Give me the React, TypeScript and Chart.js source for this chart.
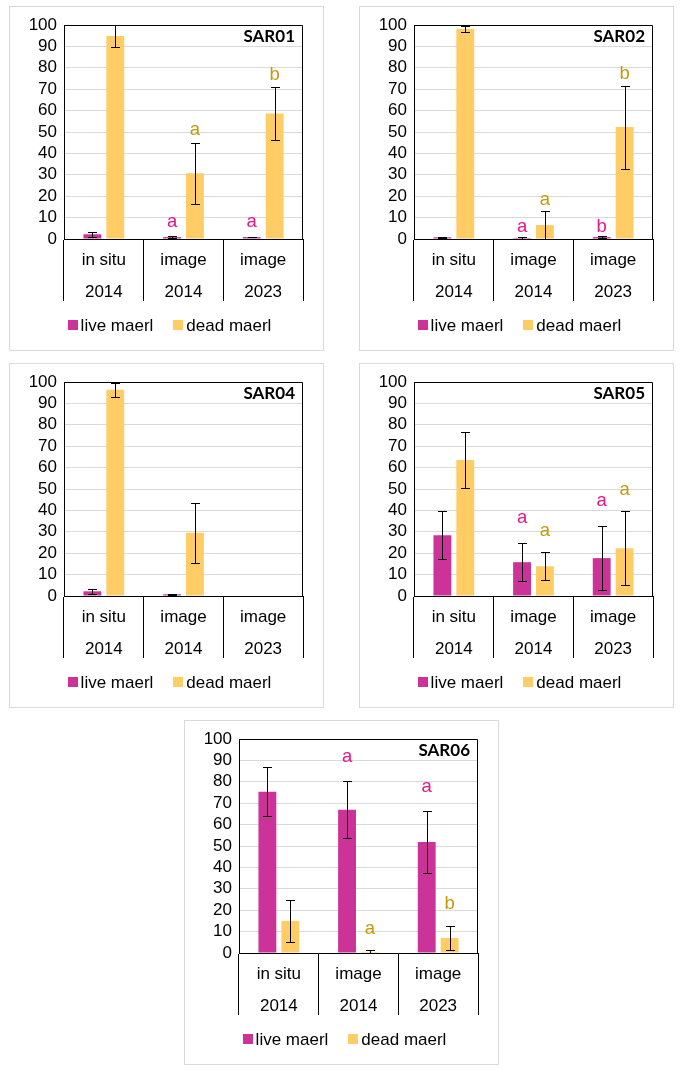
import React, { useEffect, useRef } from "react";
import { Chart, registerables } from "chart.js";

Chart.register(...registerables);

// ---------------- data ----------------
const categories: string[][] = [
  ["in situ", "2014"],
  ["image", "2014"],
  ["image", "2023"],
];
const seriesNames = ["live maerl", "dead maerl"];
const yMin = 0;
const yMax = 100;
const yStep = 10;

const sar01Live = [2.2, 0.9, 0.9];
const sar01LiveErr = [1.3, 0.3, 0.1];
const sar01Dead = [94.9, 30.7, 58.7];
const sar01DeadErr = [5.0, 14.3, 12.4];
const sar01LiveLetters = ["", "a", "a"];
const sar01LiveLetterY = [null, 8.1, 8.1];
const sar01DeadLetters = ["", "a", "b"];
const sar01DeadLetterY = [null, 50.9, 76.6];

const sar02Live = [0.8, 0.5, 0.9];
const sar02LiveErr = [0.3, 0.3, 0.4];
const sar02Dead = [98.1, 6.5, 52.3];
const sar02DeadErr = [1.6, 6.8, 19.4];
const sar02LiveLetters = ["", "a", "b"];
const sar02LiveLetterY = [null, 5.5, 5.8];
const sar02DeadLetters = ["", "a", "b"];
const sar02DeadLetterY = [null, 18.2, 77.1];

const sar04Live = [2.2, 0.8, null];
const sar04LiveErr = [1.3, 0.3, null];
const sar04Dead = [96.4, 29.5, null];
const sar04DeadErr = [3.2, 14.1, null];
const sar04LiveLetters = ["", "", ""];
const sar04LiveLetterY = [null, null, null];
const sar04DeadLetters = ["", "", ""];
const sar04DeadLetterY = [null, null, null];

const sar05Live = [28.4, 15.8, 17.7];
const sar05LiveErr = [11.3, 8.9, 14.8];
const sar05Dead = [63.6, 13.9, 22.3];
const sar05DeadErr = [12.9, 6.5, 17.3];
const sar05LiveLetters = ["", "a", "a"];
const sar05LiveLetterY = [null, 36.3, 44.4];
const sar05DeadLetters = ["", "a", "a"];
const sar05DeadLetterY = [null, 30.5, 49.5];

const sar06Live = [75.4, 66.9, 51.9];
const sar06LiveErr = [11.6, 13.3, 14.6];
const sar06Dead = [15.0, 0.5, 7.0];
const sar06DeadErr = [10.0, 0.9, 5.8];
const sar06LiveLetters = ["", "a", "a"];
const sar06LiveLetterY = [null, 91.4, 77.5];
const sar06DeadLetters = ["", "a", "b"];
const sar06DeadLetterY = [null, 11.2, 22.8];

// ---------------- styles ----------------
const FONT = '"Liberation Sans", Arial, Helvetica, sans-serif';
const TITLE_FONT = 'bold 17px Lato, "Open Sans", sans-serif';
const FONT_SIZE = 17;
const LETTER_SIZE = 18.5;
const LIVE_COLOR = "#CC3399";
const DEAD_COLOR = "#FFCC66";
const LIVE_LETTER = "#E5178A";
const DEAD_LETTER = "#C49A0C";
const GRID = "#D9D9D9";

const CANVAS_W = 313;
const CANVAS_H = 343;

type PanelDef = {
  title: string;
  live: (number | null)[];
  liveErr: (number | null)[];
  dead: (number | null)[];
  deadErr: (number | null)[];
  liveLetters: string[];
  liveLetterY: (number | null)[];
  deadLetters: string[];
  deadLetterY: (number | null)[];
  left: number;
  top: number;
};

const panels: PanelDef[] = [
  { title: "SAR01", live: sar01Live, liveErr: sar01LiveErr, dead: sar01Dead, deadErr: sar01DeadErr, liveLetters: sar01LiveLetters, liveLetterY: sar01LiveLetterY, deadLetters: sar01DeadLetters, deadLetterY: sar01DeadLetterY, left: 9, top: 6 },
  { title: "SAR02", live: sar02Live, liveErr: sar02LiveErr, dead: sar02Dead, deadErr: sar02DeadErr, liveLetters: sar02LiveLetters, liveLetterY: sar02LiveLetterY, deadLetters: sar02DeadLetters, deadLetterY: sar02DeadLetterY, left: 359, top: 6 },
  { title: "SAR04", live: sar04Live, liveErr: sar04LiveErr, dead: sar04Dead, deadErr: sar04DeadErr, liveLetters: sar04LiveLetters, liveLetterY: sar04LiveLetterY, deadLetters: sar04DeadLetters, deadLetterY: sar04DeadLetterY, left: 9, top: 363 },
  { title: "SAR05", live: sar05Live, liveErr: sar05LiveErr, dead: sar05Dead, deadErr: sar05DeadErr, liveLetters: sar05LiveLetters, liveLetterY: sar05LiveLetterY, deadLetters: sar05DeadLetters, deadLetterY: sar05DeadLetterY, left: 359, top: 363 },
  { title: "SAR06", live: sar06Live, liveErr: sar06LiveErr, dead: sar06Dead, deadErr: sar06DeadErr, liveLetters: sar06LiveLetters, liveLetterY: sar06LiveLetterY, deadLetters: sar06DeadLetters, deadLetterY: sar06DeadLetterY, left: 184, top: 720 },
];

function makeDecor(p: PanelDef) {
  const errs = [p.liveErr, p.deadErr];
  const letters = [p.liveLetters, p.deadLetters];
  const letterY = [p.liveLetterY, p.deadLetterY];
  const letterColors = [LIVE_LETTER, DEAD_LETTER];
  return {
    id: "decor",
    afterDatasetsDraw(chart: any) {
      const { ctx, chartArea: ca } = chart;
      const y = chart.scales.y;
      // plot frame (top + right)
      ctx.save();
      ctx.strokeStyle = "#000";
      ctx.lineWidth = 1;
      const l = Math.round(ca.left) + 0.5;
      const r = Math.round(ca.right) - 0.5;
      const t = Math.round(ca.top) + 0.5;
      const b = Math.round(ca.bottom);
      ctx.beginPath();
      ctx.moveTo(l, t);
      ctx.lineTo(r, t);
      ctx.lineTo(r, b);
      ctx.stroke();
      ctx.restore();

      // error bars
      ctx.save();
      ctx.beginPath();
      ctx.rect(ca.left, ca.top, ca.right - ca.left, ca.bottom - ca.top);
      ctx.clip();
      ctx.strokeStyle = "#000";
      ctx.lineWidth = 1;
      chart.data.datasets.forEach((ds: any, di: number) => {
        const meta = chart.getDatasetMeta(di);
        meta.data.forEach((bar: any, i: number) => {
          const v = ds.data[i];
          const e = errs[di][i];
          if (v == null || e == null) return;
          const x = Math.round(bar.x) + 0.5;
          const yt = Math.round(y.getPixelForValue(v + e)) + 0.5;
          const yb = Math.round(y.getPixelForValue(v - e)) + 0.5;
          ctx.beginPath();
          ctx.moveTo(x, yt);
          ctx.lineTo(x, yb);
          ctx.moveTo(x - 4.5, yt);
          ctx.lineTo(x + 4.5, yt);
          ctx.moveTo(x - 4.5, yb);
          ctx.lineTo(x + 4.5, yb);
          ctx.stroke();
        });
      });
      ctx.restore();

      // significance letters
      ctx.save();
      ctx.font = `${LETTER_SIZE}px ${FONT}`;
      ctx.textAlign = "center";
      ctx.textBaseline = "middle";
      chart.data.datasets.forEach((_ds: any, di: number) => {
        const meta = chart.getDatasetMeta(di);
        meta.data.forEach((bar: any, i: number) => {
          const txt = letters[di][i];
          const ly = letterY[di][i];
          if (!txt || ly == null) return;
          ctx.fillStyle = letterColors[di];
          ctx.fillText(txt, bar.x, y.getPixelForValue(ly));
        });
      });
      ctx.restore();

      // panel title
      ctx.save();
      ctx.font = TITLE_FONT;
      ctx.fillStyle = "#000";
      ctx.textAlign = "right";
      ctx.textBaseline = "middle";
      ctx.fillText(p.title, ca.right - 8, ca.top + 12);
      ctx.restore();
    },
    afterDraw(chart: any) {
      // legend
      const { ctx, chartArea: ca } = chart;
      ctx.save();
      ctx.font = `${FONT_SIZE}px ${FONT}`;
      ctx.textBaseline = "middle";
      ctx.textAlign = "left";
      const box = 10;
      const gapText = 3;
      const gapItem = 20;
      const items = chart.data.datasets.map((ds: any) => ({
        label: ds.label as string,
        color: ds.backgroundColor as string,
        w: ctx.measureText(ds.label).width,
      }));
      const total = items.reduce((s: number, it: any) => s + box + gapText + it.w, 0) + gapItem * (items.length - 1);
      let x = (chart.width - total) / 2 + 3;
      const ly = ca.bottom + 86;
      items.forEach((it: any) => {
        ctx.fillStyle = it.color;
        ctx.fillRect(Math.round(x), Math.round(ly - box / 2), box, box);
        ctx.fillStyle = "#000";
        ctx.fillText(it.label, x + box + gapText, ly + 1);
        x += box + gapText + it.w + gapItem;
      });
      ctx.restore();
    },
  };
}

function Panel({ p }: { p: PanelDef }) {
  const ref = useRef<HTMLCanvasElement>(null);
  useEffect(() => {
    if (!ref.current) return;
    const chart = new Chart(ref.current, {
      type: "bar",
      data: {
        labels: categories as any,
        datasets: [
          { label: seriesNames[0], data: p.live as any, backgroundColor: LIVE_COLOR, borderWidth: 0 },
          { label: seriesNames[1], data: p.dead as any, backgroundColor: DEAD_COLOR, borderWidth: 0 },
        ],
      },
      options: {
        responsive: false,
        animation: false,
        devicePixelRatio: 1,
        layout: { padding: { left: 0, top: 18, right: 20, bottom: 0 } },
        plugins: {
          legend: { display: false },
          tooltip: { enabled: false },
          title: { display: false },
        },
        datasets: { bar: { categoryPercentage: 0.575, barPercentage: 0.78 } },
        scales: {
          x: {
            offset: true,
            grid: {
              offset: true,
              drawOnChartArea: false,
              drawTicks: true,
              tickLength: 62,
              color: "#000",
              lineWidth: 1,
            },
            border: { display: true, color: "#000", width: 1 },
            ticks: {
              color: "#000",
              font: { family: FONT, size: FONT_SIZE, lineHeight: 1.84 },
              padding: -56,
              maxRotation: 0,
              minRotation: 0,
              autoSkip: false,
            },
            afterFit: (s: any) => {
              s.height = 111;
            },
          },
          y: {
            min: yMin,
            max: yMax,
            grid: { color: GRID, drawTicks: false, lineWidth: 1 },
            border: { display: true, color: "#000", width: 1 },
            ticks: {
              stepSize: yStep,
              autoSkip: false,
              color: "#000",
              font: { family: FONT, size: FONT_SIZE },
              padding: 7,
            },
            afterFit: (s: any) => {
              s.width = 54;
            },
          },
        },
      } as any,
      plugins: [makeDecor(p) as any],
    });
    return () => chart.destroy();
  }, [p]);
  return (
    <div
      style={{
        position: "absolute",
        left: p.left,
        top: p.top,
        width: CANVAS_W,
        height: CANVAS_H,
        border: "1px solid #D9D9D9",
        background: "#fff",
      }}
    >
      <canvas ref={ref} width={CANVAS_W} height={CANVAS_H} style={{ display: "block", width: CANVAS_W, height: CANVAS_H }} />
    </div>
  );
}

export default function App() {
  return (
    <div>
      {panels.map((p) => (
        <Panel key={p.title} p={p} />
      ))}
    </div>
  );
}
